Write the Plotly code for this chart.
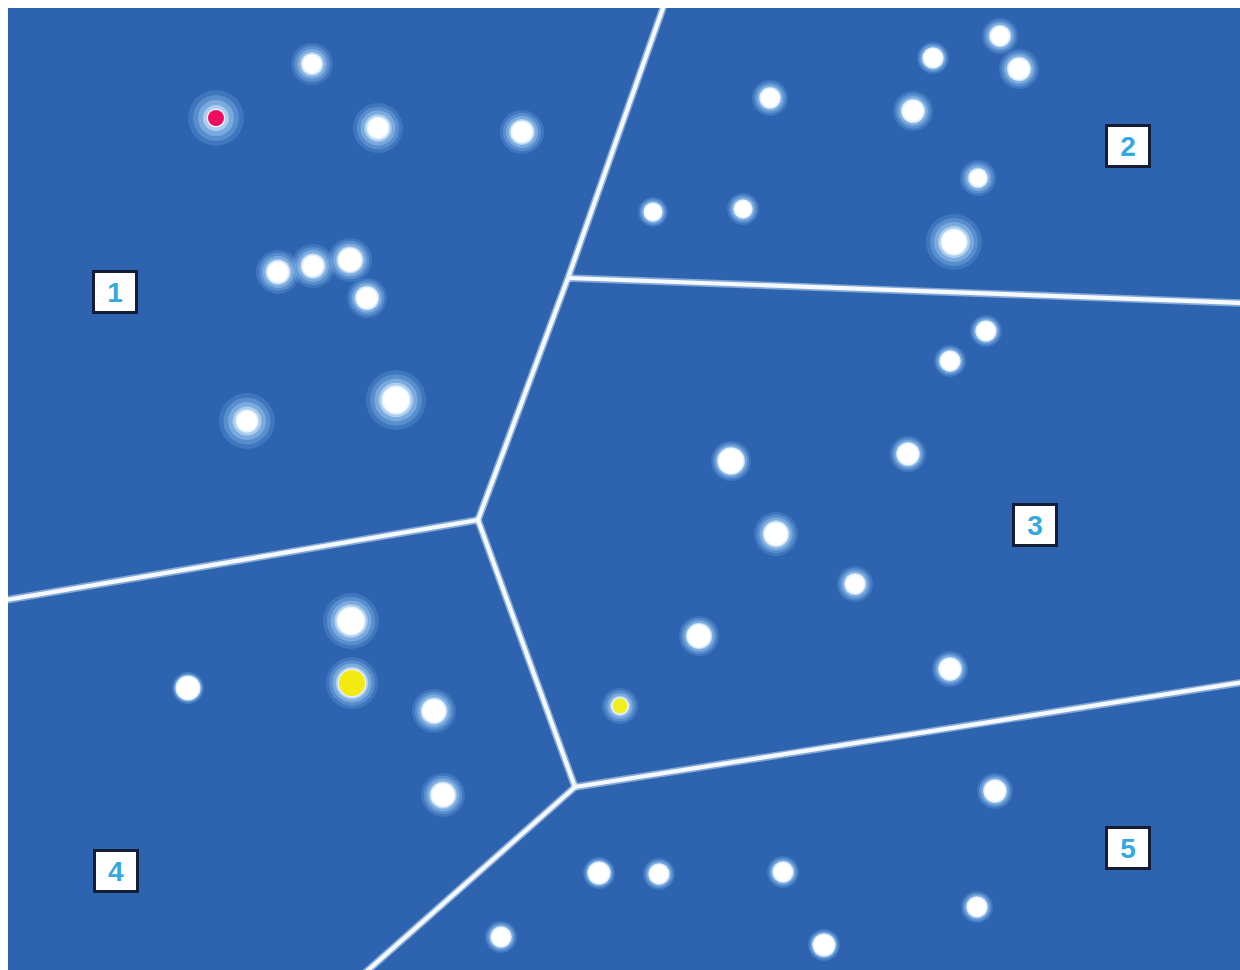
import plotly.graph_objects as go

# Page offset (left/top page margin) so data coords = screen px - 8
OFF = 8

# Star data (screen-pixel estimates)
star_x = [216, 312, 378, 522, 278, 313, 350, 367, 396, 247,
          770, 933, 1000, 1019, 913, 978, 954, 653, 743,
          986, 950, 731, 908, 776, 855, 699, 950, 620,
          351, 352, 188, 434, 443,
          995, 599, 659, 783, 977, 824, 501]
star_y = [118, 64, 128, 132, 272, 266, 260, 298, 400, 421,
          98, 58, 36, 69, 111, 178, 242, 212, 209,
          331, 361, 461, 454, 534, 584, 636, 669, 706,
          621, 683, 688, 711, 795,
          791, 873, 874, 872, 907, 945, 937]
core_size = [16, 18, 20, 20, 20, 20, 22, 20, 26, 20,
             18, 18, 18, 20, 20, 16, 24, 16, 16,
             18, 18, 24, 20, 22, 18, 22, 20, 15,
             26, 26, 22, 22, 22,
             20, 20, 18, 18, 18, 20, 18]
halo_size = [56, 42, 50, 44, 44, 44, 44, 40, 60, 56,
             36, 32, 36, 40, 40, 36, 56, 30, 32,
             32, 32, 40, 36, 44, 36, 40, 36, 36,
             56, 52, 32, 44, 44,
             36, 32, 32, 32, 32, 32, 32]
core_color = ["#ee0e5c"] + ["#ffffff"] * 26 + ["#f0ee1e"] + ["#ffffff", "#f2ea10"] + ["#ffffff"] * 10

# Voronoi edges (screen-pixel estimates)
edge_x = [[664, 568], [568, 1270], [568, 478], [478, 0], [478, 575], [575, 1270], [575, 340]]
edge_y = [[5, 278], [278, 304], [278, 520], [520, 601], [520, 787], [787, 678], [787, 995]]

# Region labels
label_text = ["1", "2", "3", "4", "5"]
label_x = [115, 1128, 1035, 116, 1128]
label_y = [292, 146, 525, 871, 848]

BG = "#2e63b0"
W, H = 1232, 962
fig = go.Figure()

for ex, ey in zip(edge_x, edge_y):
    fig.add_trace(go.Scatter(
        x=[v - OFF for v in ex], y=[v - OFF for v in ey], mode="lines",
        line=dict(color="rgba(200,225,245,0.55)", width=7.5), hoverinfo="skip", showlegend=False))
    fig.add_trace(go.Scatter(
        x=[v - OFF for v in ex], y=[v - OFF for v in ey], mode="lines",
        line=dict(color="#f6f9fd", width=4.2), hoverinfo="skip", showlegend=False))

sx = [v - OFF for v in star_x]
sy = [v - OFF for v in star_y]


def layer(sizes, color):
    fig.add_trace(go.Scatter(
        x=sx, y=sy, mode="markers", hoverinfo="skip", showlegend=False,
        marker=dict(size=sizes, color=color, opacity=1, line=dict(width=0))))


# soft glow layers
layer(halo_size, "rgba(120,175,230,0.25)")
layer([c + (h - c) * 0.75 for c, h in zip(core_size, halo_size)], "rgba(140,190,238,0.32)")
layer([c + (h - c) * 0.5 for c, h in zip(core_size, halo_size)], "rgba(170,210,245,0.42)")
layer([c + (h - c) * 0.25 for c, h in zip(core_size, halo_size)], "rgba(210,232,250,0.58)")
layer([c + 3 for c in core_size], "rgba(240,248,255,0.85)")

fig.add_trace(go.Scatter(
    x=sx, y=sy, mode="markers", showlegend=False,
    marker=dict(size=core_size, color=core_color, opacity=1, line=dict(width=0))))

for t, lx, ly in zip(label_text, label_x, label_y):
    fig.add_annotation(
        x=lx - OFF, y=ly - OFF, text="<b>" + t + "</b>", showarrow=False,
        font=dict(family="Liberation Sans, Arial, sans-serif", size=28, color="#36a8e0"),
        bgcolor="#ffffff", bordercolor="#141d36", borderwidth=3,
        width=38, height=36, xanchor="center", yanchor="middle")

fig.update_layout(
    width=W, height=H,
    margin=dict(l=0, r=0, t=0, b=0),
    paper_bgcolor=BG, plot_bgcolor=BG,
    xaxis=dict(range=[0, W], visible=False, fixedrange=True),
    yaxis=dict(range=[H, 0], visible=False, fixedrange=True),
    showlegend=False,
)

fig.write_html("out.html", config={"displayModeBar": False},
               post_script="document.documentElement.style.overflow='hidden';"
                           "document.body.style.margin='8px 0 0 8px';")
